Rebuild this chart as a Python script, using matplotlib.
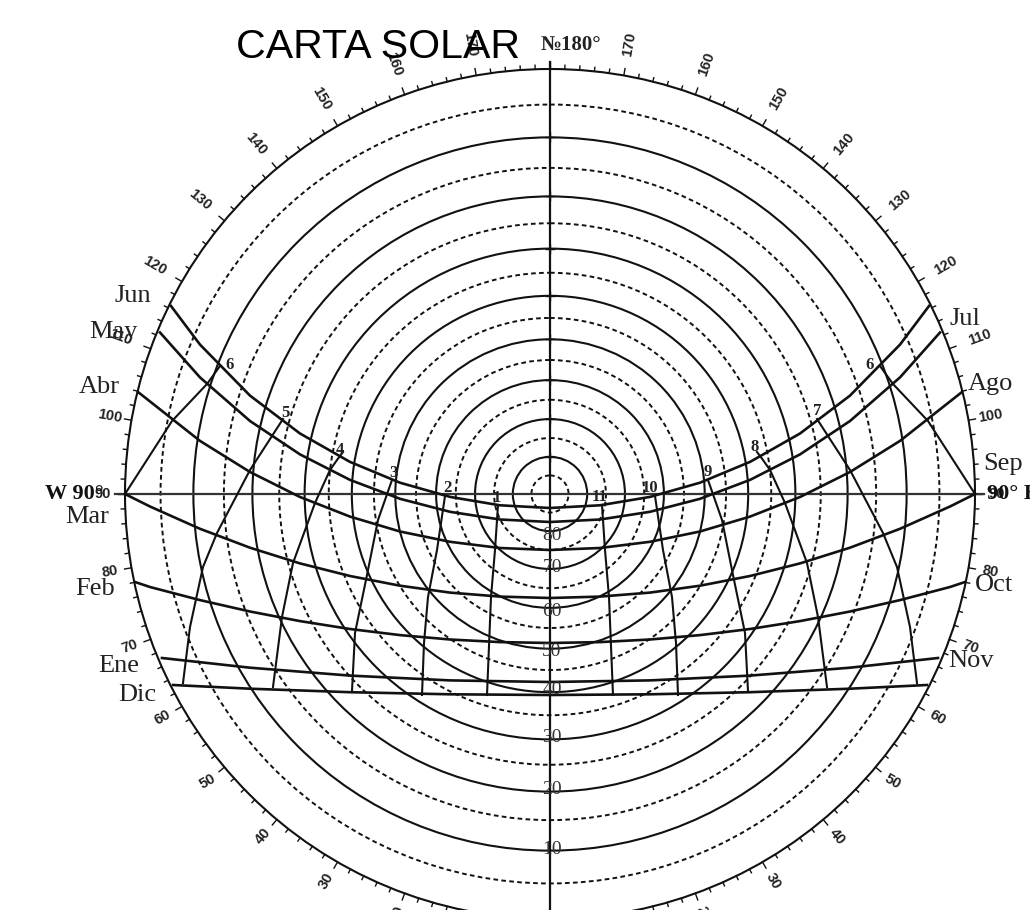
import numpy as np
import matplotlib
matplotlib.use('Agg')
import matplotlib.pyplot as plt
from matplotlib.patches import Circle

cx, cy, R = 550, 494, 425

solid_alt = [10, 20, 30, 40, 50, 60, 70, 80]
dotted_alt = [5, 15, 25, 35, 45, 55, 65, 75, 85]
alt_label_y = [850, 790, 738, 690, 652, 612, 568, 535]

az_labels = [20, 30, 40, 50, 60, 70, 80, 90, 100, 110, 120, 130, 140, 150, 160, 170]

# date lines: distance from the N-S axis, y of the line
jun_dx = [0, 50, 100, 150, 200, 250, 300, 350, 379]
jun_y = [508, 505.3, 496.9, 482.7, 461.9, 433.5, 395.6, 344.6, 306]
may_dx = [0, 50, 100, 150, 200, 250, 300, 350, 390]
may_y = [522, 519.5, 511.8, 498.8, 479.9, 454.4, 421, 377.4, 332.5]
abr_dx = [0, 50, 100, 150, 200, 250, 300, 350, 412]
abr_y = [550, 548, 541.8, 531.5, 516.6, 497, 472, 440.9, 392]
mar_dx = [0, 50, 100, 150, 200, 250, 300, 350, 400, 425]
mar_y = [598, 596.6, 592.6, 585.7, 576, 563.4, 547.7, 528.8, 506.5, 494]
feb_dx = [0, 50, 100, 150, 200, 250, 300, 350, 400, 415]
feb_y = [643, 642.1, 639.5, 635.1, 629, 621.1, 611.5, 600.1, 587, 582]
ene_dx = [0, 100, 200, 300, 388]
ene_y = [682, 680.4, 675.6, 667.7, 658]
dic_dx = [0, 100, 200, 300, 377]
dic_y = [695, 694.3, 692.2, 688.7, 685]

# hour lines, same idea
h1_dx = [52, 55, 59, 63]
h1_y = [505, 550, 597, 695]
h2_dx = [105, 113, 122, 126, 128]
h2_y = [496, 550, 597, 643, 695]
h3_dx = [158, 172, 183, 195, 198]
h3_y = [480, 520, 575, 633, 691]
h4_dx = [207, 213, 220, 235, 257, 268, 277]
h4_y = [452, 460, 470, 503, 563, 617, 687]
h5_dx = [267, 300, 333, 347, 360, 367]
h5_y = [419, 470, 533, 567, 627, 683]
h6_dx = [330, 343, 378, 425]
h6_y = [366, 384, 421, 494]

month_left = ['Jun', 'May', 'Abr', 'Mar', 'Feb', 'Ene', 'Dic']
month_left_x = [133, 113, 99, 87, 95, 119, 137]
month_left_y = [296, 332, 387, 517, 589, 666, 695]
month_right = ['Jul', 'Ago', 'Sep', 'Oct', 'Nov']
month_right_x = [965, 990, 1003, 994, 971]
month_right_y = [319, 384, 464, 585, 661]

hour_text = ['6', '5', '4', '3', '2', '1', '11', '10', '9', '8', '7', '6']
hour_x = [230, 285, 340, 393, 447, 497, 600, 650, 708, 755, 817, 870]
hour_y = [365, 413, 450, 473, 488, 498, 497, 488, 472, 447, 411, 365]

serif = 'Liberation Serif'
sans = 'Liberation Sans'
ink = '#111111'


def to_r(alt):
    # stereographic sun chart scale
    return R * np.tan(np.radians(90 - alt) / 2)


fig = plt.figure(figsize=(10.3, 9.1), dpi=100)
ax = fig.add_axes([0, 0, 1, 1])
ax.set_xlim(0, 1030)
ax.set_ylim(910, 0)
ax.axis('off')

ax.add_patch(Circle((cx, cy), R, fill=False, ec=ink, lw=1.5))
for a in solid_alt:
    ax.add_patch(Circle((cx, cy), to_r(a), fill=False, ec=ink, lw=1.5))
for a in dotted_alt:
    ax.add_patch(Circle((cx, cy), to_r(a), fill=False, ec=ink, lw=1.4, ls=(0, (2.4, 1.7))))

# rim ticks
for az in np.arange(0, 361, 2):
    t = np.radians(az)
    n = 7 if az % 10 == 0 else 4
    ax.plot([cx + R * np.sin(t), cx + (R + n) * np.sin(t)],
            [cy + R * np.cos(t), cy + (R + n) * np.cos(t)], color=ink, lw=1.0)

# axes of the chart
ax.plot([115, 984], [cy, cy], color='#333333', lw=1.6)
ax.plot([cx, cx], [62, 910], color=ink, lw=1.6)
ax.plot([cx] * len(solid_alt), [cy - to_r(a) for a in solid_alt], '+', color=ink, ms=7, mew=1)

dates = [(jun_dx, jun_y), (may_dx, may_y), (abr_dx, abr_y), (mar_dx, mar_y),
         (feb_dx, feb_y), (ene_dx, ene_y), (dic_dx, dic_y)]
for dx, y in dates:
    dx = np.array(dx)
    y = np.array(y)
    xs = np.concatenate([cx - dx[::-1], cx + dx[1:]])
    ys = np.concatenate([y[::-1], y[1:]])
    ax.plot(xs, ys, color=ink, lw=1.9, solid_joinstyle='round')

hours = [(h1_dx, h1_y), (h2_dx, h2_y), (h3_dx, h3_y), (h4_dx, h4_y), (h5_dx, h5_y), (h6_dx, h6_y)]
for dx, y in hours:
    dx = np.array(dx)
    ax.plot(cx - dx, y, color=ink, lw=1.5)
    ax.plot(cx + dx, y, color=ink, lw=1.5)

# azimuth numbers round the rim
for az in az_labels:
    t = np.radians(az)
    r = 457 if az > 100 else 447
    elev = abs(az - 90)
    if az == 50:
        elev = 30
    rot = elev if az > 90 else -elev
    ax.text(cx + r * np.sin(t), cy + r * np.cos(t), str(az), rotation=rot, fontsize=10.5,
            family=sans, fontweight='bold', color='#222222', ha='center', va='center')
    ax.text(cx - r * np.sin(t), cy + r * np.cos(t), str(az), rotation=-rot, fontsize=10.5,
            family=sans, fontweight='bold', color='#222222', ha='center', va='center')

for m, x, y in zip(month_left + month_right, month_left_x + month_right_x, month_left_y + month_right_y):
    ax.text(x, y, m, fontsize=19, family=serif, color='#222222', ha='center', va='center')

for h, x, y in zip(hour_text, hour_x, hour_y):
    ax.text(x, y, h, fontsize=12, family=serif, fontweight='bold', color='#222222', ha='center', va='center')

for a, y in zip(solid_alt, alt_label_y):
    ax.text(cx + 2, y, str(a), fontsize=14, family=serif, color='#333333', ha='center', va='center')

ax.text(74, 494, 'W 90°', fontsize=16, family=serif, fontweight='bold', color=ink, ha='center', va='center')
ax.text(987, 494, '90° E', fontsize=16, family=serif, fontweight='bold', color=ink, ha='left', va='center')
ax.text(571, 45, '№180°', fontsize=15, family=serif, fontweight='bold', color='#222222', ha='center', va='center')
ax.text(236, 58, 'CARTA SOLAR', fontsize=29.6, family=sans, color='black', ha='left', va='baseline')

fig.savefig('out.png', dpi=100)
